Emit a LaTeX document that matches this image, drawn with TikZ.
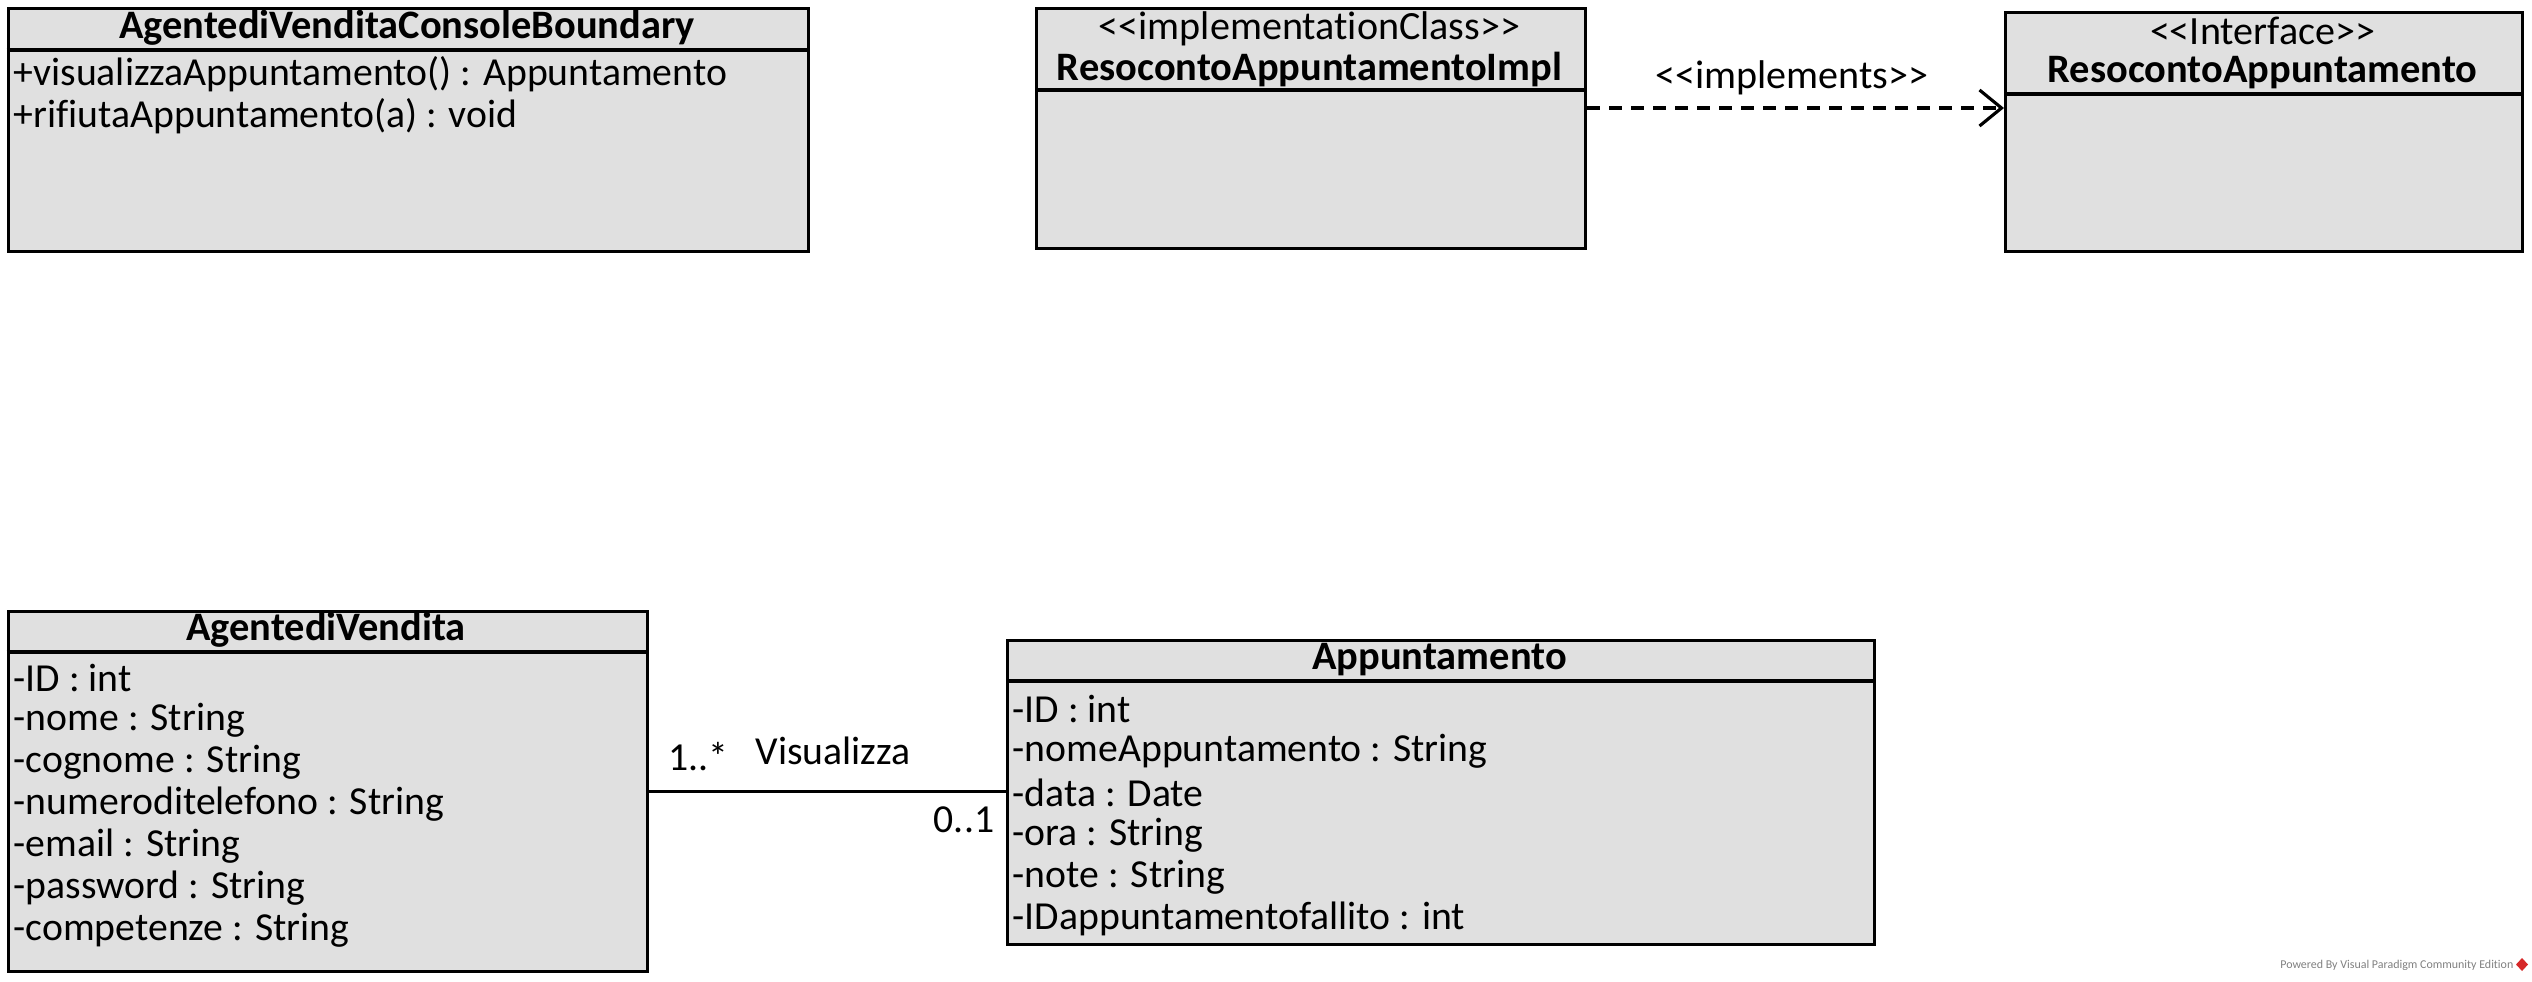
\documentclass[tikz,border=0pt]{standalone}
\usepackage{fontspec}
\setmainfont{Carlito}[Ligatures=NoCommon]
\usetikzlibrary{arrows.meta}
\definecolor{classfill}{RGB}{224,224,224}
\definecolor{vpred}{RGB}{214,40,40}
\newcommand{\stereo}[1]{<\kern0pt<#1>\kern0pt>}

\begin{document}
\begin{tikzpicture}[
        classbox/.style={draw,fill=classfill,line width=0.9pt,inner sep=0pt,
            anchor=north west},
        classname/.style={font=\fontsize{11.5}{13}\selectfont\bfseries,inner sep=0pt},
        stereotype/.style={font=\fontsize{11.4}{13}\selectfont,inner sep=0pt},
        member/.style={font=\fontsize{11.3}{13}\selectfont,inner sep=0pt,anchor=west},
        mult/.style={font=\fontsize{11.3}{13}\selectfont,inner sep=0pt},
        divider/.style={line width=0.9pt},
        implements/.style={line width=0.9pt,dash pattern=on 0.13cm off 0.09cm,
            -{Straight Barb[length=0.22cm,width=0.36cm,line width=0.9pt]}},
        assoc/.style={line width=0.9pt}]
\useasboundingbox (0,0) rectangle (25.32,-9.81);

% boundary class
\node[classbox,minimum width=8.005cm,minimum height=2.435cm] (boundary) at (0.065,-0.065) {};
\draw[divider] (boundary.west |- 0,-0.50) -- (boundary.east |- 0,-0.50);
\node[classname] (boundaryname) at (4.07,-0.275) {AgentediVenditaConsoleBoundary};
\node[member] (boundaryop1) at (0.13,-0.74) {+visualizzaAppuntamento() : Appuntamento};
\node[member] (boundaryop2) at (0.13,-1.16) {+rifiutaAppuntamento(a) : void};

% implementation class
\node[classbox,minimum width=5.49cm,minimum height=2.405cm] (impl) at (10.35,-0.065) {};
\draw[divider] (impl.west |- 0,-0.90) -- (impl.east |- 0,-0.90);
\node[stereotype] (implstereo) at (13.095,-0.29) {\stereo{implementationClass}};
\node[classname] (implname) at (13.095,-0.69) {ResocontoAppuntamentoImpl};

% interface
\node[classbox,minimum width=5.17cm,minimum height=2.39cm] (iface) at (20.04,-0.11) {};
\draw[divider] (iface.west |- 0,-0.94) -- (iface.east |- 0,-0.94);
\node[stereotype] (ifacestereo) at (22.625,-0.31) {\stereo{Interface}};
\node[classname] (ifacename) at (22.625,-0.73) {ResocontoAppuntamento};

\coordinate (arrowy) at (0,-1.08);
\draw[implements] (impl.east |- arrowy) -- (iface.west |- arrowy);
\node[stereotype] (implementslabel) at (17.92,-0.78) {\stereo{implements}};

% agente di vendita
\node[classbox,minimum width=6.395cm,minimum height=3.60cm] (agent) at (0.065,-6.10) {};
\draw[divider] (agent.west |- 0,-6.52) -- (agent.east |- 0,-6.52);
\node[classname] (agentname) at (3.26,-6.30) {AgentediVendita};
\node[member] (agentid) at (0.13,-6.78) {-ID : int};
\node[member] (agentnome) at (0.13,-7.20) {-nome : String};
\node[member] (agentcognome) at (0.13,-7.62) {-cognome : String};
\node[member] (agenttel) at (0.13,-8.04) {-numeroditelefono : String};
\node[member] (agentemail) at (0.13,-8.46) {-email : String};
\node[member] (agentpwd) at (0.13,-8.88) {-password : String};
\node[member] (agentcomp) at (0.13,-9.30) {-competenze : String};

% appuntamento
\node[classbox,minimum width=8.67cm,minimum height=3.04cm] (appunt) at (10.06,-6.39) {};
\draw[divider] (appunt.west |- 0,-6.81) -- (appunt.east |- 0,-6.81);
\node[classname] (appuntname) at (14.395,-6.60) {Appuntamento};
\node[member] (appuntid) at (10.12,-7.09) {-ID : int};
\node[member] (appuntnome) at (10.12,-7.51) {-nomeAppuntamento : String};
\node[member] (appuntdata) at (10.12,-7.93) {-data : Date};
\node[member] (appuntora) at (10.12,-8.35) {-ora : String};
\node[member] (appuntnote) at (10.12,-8.77) {-note : String};
\node[member] (appuntfall) at (10.12,-9.19) {-IDappuntamentofallito : int};

\draw[assoc] (agent.east) -- (appunt.west |- agent.east);
\node[mult] (multagent) at (6.98,-7.57) {1..*};
\node[mult] (assocname) at (8.33,-7.51) {Visualizza};
\node[mult] (multappunt) at (9.64,-8.20) {0..1};

% watermark
\node[font=\fontsize{3.4}{4}\selectfont,text=gray,inner sep=0pt,anchor=east] (powered) at (25.14,-9.65) {Powered By Visual Paradigm Community Edition};
\fill[vpred] (25.22,-9.58) -- (25.28,-9.645) -- (25.22,-9.71) -- (25.16,-9.645) -- cycle;
\end{tikzpicture}
\end{document}
